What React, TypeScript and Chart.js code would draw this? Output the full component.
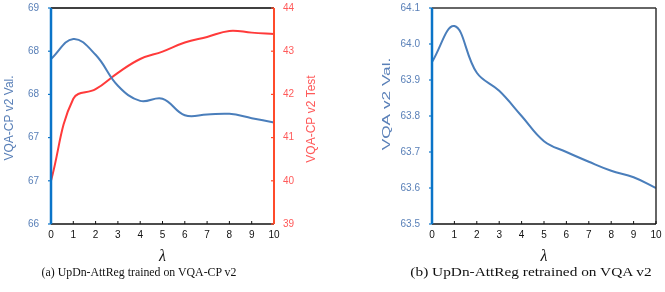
import React, { useEffect, useRef } from 'react';
import { Chart, registerables } from 'chart.js';
Chart.register(...registerables);

const lambdas = [0, 1, 2, 3, 4, 5, 6, 7, 8, 9, 10];
const cpVal = [68.29, 68.57, 68.35, 67.92, 67.71, 67.74, 67.51, 67.52, 67.53, 67.47, 67.41];
const cpTest = [40.0, 41.9, 42.12, 42.5, 42.82, 42.99, 43.2, 43.33, 43.47, 43.43, 43.4];
const vqaVal = [63.95, 64.05, 63.92, 63.87, 63.8, 63.73, 63.7, 63.673, 63.648, 63.63, 63.6];

const leftAxisTitle = 'VQA-CP v2 Val.';
const rightAxisTitle = 'VQA-CP v2 Test';
const vqaAxisTitle = 'VQA v2 Val.';
const xTitle = 'λ';
const captionA = '(a) UpDn-AttReg trained on VQA-CP v2';
const captionB = '(b) UpDn-AttReg retrained on VQA v2';

const BLUE_LINE = '#4A7EBB';
const BLUE_AXIS = '#0A74C8';
const BLUE_TEXT = '#5A80B8';
const RED_LINE = '#FF3A3A';
const RED_AXIS = '#FF4B2B';
const RED_TEXT = '#FF5A5A';
const SANS = '"Liberation Sans", Arial, sans-serif';
const SERIF = '"Liberation Serif", "Times New Roman", serif';

function line(ctx: CanvasRenderingContext2D, x1: number, y1: number, x2: number, y2: number, color: string, w: number) {
  ctx.save();
  ctx.strokeStyle = color;
  ctx.lineWidth = w;
  ctx.beginPath();
  ctx.moveTo(x1, y1);
  ctx.lineTo(x2, y2);
  ctx.stroke();
  ctx.restore();
}

function rotatedText(ctx: CanvasRenderingContext2D, text: string, cx: number, cy: number, color: string, size: number, stretch: number) {
  ctx.save();
  ctx.fillStyle = color;
  ctx.font = `${size}px ${SANS}`;
  ctx.textAlign = 'center';
  ctx.textBaseline = 'middle';
  ctx.translate(cx, cy);
  ctx.rotate(-Math.PI / 2);
  ctx.scale(stretch, 1);
  ctx.fillText(text, 0, 0);
  ctx.restore();
}

const frameA = {
  id: 'frameA',
  afterDraw(chart: any) {
    const { ctx, chartArea: a, scales } = chart;
    const x = scales.x, y = scales.y, y1 = scales.y1;
    line(ctx, a.left, a.top, a.right, a.top, '#404040', 2);
    line(ctx, a.left, a.bottom, a.right, a.bottom, '#111', 1.5);
    x.ticks.forEach((t: any) => {
      const px = x.getPixelForValue(t.value);
      line(ctx, px, a.bottom, px, a.bottom - 3, '#111', 1);
    });
    y.ticks.forEach((t: any) => {
      const py = y.getPixelForValue(t.value);
      line(ctx, a.left, py, a.left - 3, py, BLUE_AXIS, 1.2);
    });
    y1.ticks.forEach((t: any) => {
      const py = y1.getPixelForValue(t.value);
      line(ctx, a.right, py, a.right - 3, py, RED_AXIS, 1.2);
    });
    line(ctx, a.left, a.top, a.left, a.bottom, BLUE_AXIS, 2.5);
    line(ctx, a.right, a.top, a.right, a.bottom, RED_AXIS, 2);
    rotatedText(ctx, leftAxisTitle, 10, 118, BLUE_TEXT, 12, 1);
    rotatedText(ctx, rightAxisTitle, 312, 119, RED_TEXT, 12, 1);
  },
};

const frameB = {
  id: 'frameB',
  afterDraw(chart: any) {
    const { ctx, chartArea: a, scales } = chart;
    const x = scales.x, y = scales.y;
    line(ctx, a.left, a.top, a.right, a.top, '#333', 1.5);
    line(ctx, a.right, a.top, a.right, a.bottom, '#333', 1.5);
    line(ctx, a.left, a.bottom, a.right, a.bottom, '#111', 1.5);
    x.ticks.forEach((t: any) => {
      const px = x.getPixelForValue(t.value);
      line(ctx, px, a.bottom, px, a.bottom - 3, '#111', 1);
    });
    y.ticks.forEach((t: any) => {
      const py = y.getPixelForValue(t.value);
      line(ctx, a.left, py, a.left - 3, py, BLUE_AXIS, 1.2);
    });
    line(ctx, a.left, a.top, a.left, a.bottom, BLUE_AXIS, 2.5);
    rotatedText(ctx, vqaAxisTitle, 57, 104, BLUE_TEXT, 11.5, 1.5);
  },
};

const zeroPad = (s: any) => {
  s.paddingTop = 0;
  s.paddingBottom = 0;
  s.paddingLeft = 0;
  s.paddingRight = 0;
};

const xScale = () => ({
  type: 'linear' as const,
  min: 0,
  max: 10,
  afterFit: (s: any) => { s.height = 68; zeroPad(s); },
  grid: { display: false, drawTicks: false },
  border: { display: false },
  ticks: { stepSize: 1, padding: 5, color: '#111', font: { size: 10, family: SANS } },
  title: {
    display: true,
    text: xTitle,
    color: '#111',
    font: { size: 16, family: SERIF, style: 'italic' as const },
    padding: { top: 0, bottom: 26 },
  },
});

function ChartA() {
  const ref = useRef<HTMLCanvasElement>(null);
  useEffect(() => {
    const chart = new Chart(ref.current!, {
      type: 'line',
      data: {
        datasets: [
          {
            label: leftAxisTitle,
            data: lambdas.map((l, i) => ({ x: l, y: cpVal[i] })),
            borderColor: BLUE_LINE,
            borderWidth: 2,
            pointRadius: 0,
            tension: 0.4,
            yAxisID: 'y',
          },
          {
            label: rightAxisTitle,
            data: lambdas.map((l, i) => ({ x: l, y: cpTest[i] })),
            borderColor: RED_LINE,
            borderWidth: 2,
            pointRadius: 0,
            tension: 0.4,
            yAxisID: 'y1',
          },
        ],
      },
      options: {
        responsive: false,
        animation: false,
        layout: { padding: { top: 8, left: 0, right: 0, bottom: 0 } },
        plugins: { legend: { display: false }, tooltip: { enabled: false } },
        scales: {
          x: xScale(),
          y: {
            position: 'left',
            min: 66,
            max: 69,
            afterFit: (s: any) => { s.width = 51; zeroPad(s); },
            grid: { display: false, drawTicks: false },
            border: { display: false },
            ticks: {
              stepSize: 0.6,
              padding: 12,
              color: BLUE_TEXT,
              font: { size: 10, family: SANS },
              callback: (v: any) => String(Math.round(Number(v))),
            },
          },
          y1: {
            position: 'right',
            min: 39,
            max: 44,
            afterFit: (s: any) => { s.width = 56; zeroPad(s); },
            grid: { display: false, drawTicks: false },
            border: { display: false },
            ticks: { stepSize: 1, padding: 9, color: RED_TEXT, font: { size: 10, family: SANS } },
          },
        },
      } as any,
      plugins: [frameA],
    });
    return () => chart.destroy();
  }, []);
  return <canvas ref={ref} width={330} height={292} style={{ position: 'absolute', left: 0, top: 0 }} />;
}

function ChartB() {
  const ref = useRef<HTMLCanvasElement>(null);
  useEffect(() => {
    const chart = new Chart(ref.current!, {
      type: 'line',
      data: {
        datasets: [
          {
            label: vqaAxisTitle,
            data: lambdas.map((l, i) => ({ x: l, y: vqaVal[i] })),
            borderColor: BLUE_LINE,
            borderWidth: 2,
            pointRadius: 0,
            tension: 0.4,
          },
        ],
      },
      options: {
        responsive: false,
        animation: false,
        layout: { padding: { top: 8, left: 0, right: 9, bottom: 0 } },
        plugins: { legend: { display: false }, tooltip: { enabled: false } },
        scales: {
          x: xScale(),
          y: {
            position: 'left',
            min: 63.5,
            max: 64.1,
            afterFit: (s: any) => { s.width = 102; zeroPad(s); },
            grid: { display: false, drawTicks: false },
            border: { display: false },
            ticks: {
              stepSize: 0.1,
              padding: 12,
              color: BLUE_TEXT,
              font: { size: 10, family: SANS },
              callback: (v: any) => Number(v).toFixed(1),
            },
          },
        },
      } as any,
      plugins: [frameB],
    });
    return () => chart.destroy();
  }, []);
  return <canvas ref={ref} width={335} height={292} style={{ position: 'absolute', left: 330, top: 0 }} />;
}

const capStyle = (left: number, sx: number): React.CSSProperties => ({
  position: 'absolute',
  left,
  top: 264,
  fontFamily: SERIF,
  fontSize: 13,
  lineHeight: '15px',
  color: '#111',
  whiteSpace: 'nowrap',
  transform: `translate(-50%, 0) scaleX(${sx})`,
});

export default function App() {
  return (
    <div style={{ position: 'fixed', left: 0, top: 0, width: 665, height: 292, background: '#fff', overflow: 'hidden' }}>
      <ChartA />
      <ChartB />
      <div style={capStyle(139, 0.91)}>{captionA}</div>
      <div style={capStyle(531, 1.18)}>{captionB}</div>
    </div>
  );
}
